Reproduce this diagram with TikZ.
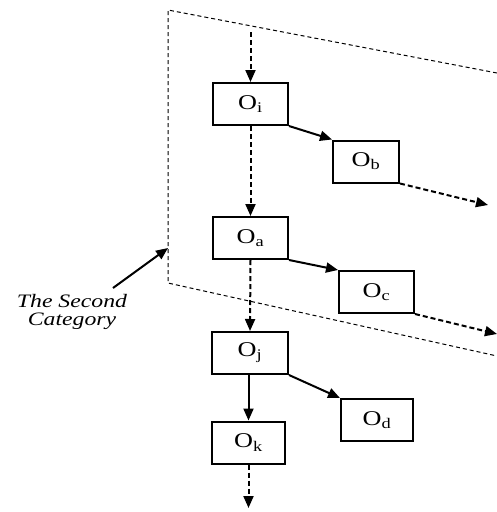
\documentclass[tikz,border=0pt]{standalone}
\usepackage{fontspec}
\setmainfont{Liberation Serif}[FakeStretch=1.25]
\usetikzlibrary{arrows.meta}

\begin{document}
\begin{tikzpicture}
[x=1pt,y=-1pt,
  boxDecorate/.style={shape=rectangle,draw,line width=2pt,inner sep=0pt,
    minimum height=42pt,font=\fontsize{21}{21}\selectfont},
  solidArrow/.style={-{Triangle[length=12pt,width=10pt]},line width=2pt},
  dashArrow/.style={solidArrow,dash pattern=on 5pt off 3pt},
  planeDecorate/.style={line width=1pt,dash pattern=on 4pt off 3pt}]
\useasboundingbox (0,0) rectangle (497,512);
%% the plane of the second category
\coordinate (planeTL) at (168,10);
\coordinate (planeTR) at (497,73);
\coordinate (planeBL) at (168,283);
\coordinate (planeBR) at (497,356);
\draw[planeDecorate] (planeTR) -- (planeTL) -- (planeBL) -- (planeBR);
%% nodes or boxes
\foreach \nodename/\x/\y/\w in {
  i/250.5/104/75,
  b/366/161.5/66,
  a/250.5/238/75,
  c/376.5/292/75,
  j/250/353/76,
  d/377/420/72,
  k/248.5/442.5/73}
{
  \node (\nodename) at (\x,\y) [boxDecorate,minimum width=\w pt] {O\textsubscript{\nodename}};
}
%% free ends
\coordinate (top) at (250.5,32);
\coordinate (bEnd) at (488,205);
\coordinate (cEnd) at (497,334);
\coordinate (bottom) at (248.5,508);
%% edges or arrows
\path
\foreach \startnode/\endnode/\kind in {
  top/i.north/dashArrow, i.south/a.north/dashArrow, a.south/j.north/dashArrow,
  k.south/bottom/dashArrow, b.south east/bEnd/dashArrow, c.south east/cEnd/dashArrow,
  i.south east/b.north west/solidArrow, a.south east/c.north west/solidArrow,
  j.south east/d.north west/solidArrow}
{
  (\startnode) edge[\kind] (\endnode)
};
\draw[solidArrow] (j.south -| k.north) -- (k.north);
%% the label
\node (category) at (72,312) [align=center,font=\fontsize{19}{18}\selectfont\itshape]
  {The Second\\Category};
\coordinate (catStart) at (113,288);
\coordinate (catTip) at (168,248);
\draw[solidArrow] (catStart) -- (catTip);
\end{tikzpicture}
\end{document}
